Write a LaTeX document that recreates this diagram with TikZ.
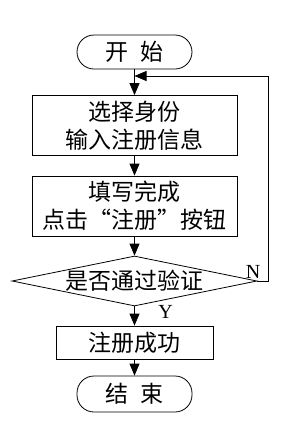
\documentclass[tikz,border=0pt]{standalone}
\usepackage{fontspec}
\setmainfont{Liberation Serif}
\newfontfamily\cjk{Noto Sans CJK SC}
\newfontfamily\cjkfw[RawFeature=+fwid]{Noto Sans CJK SC}
\usetikzlibrary{shapes.geometric,arrows.meta}

\tikzset{
  every node/.style={font=\cjk\fontsize{23pt}{28pt}\selectfont},
  stepbox/.style={draw, minimum width=205pt, minimum height=60pt, inner sep=0pt, align=center},
  termbox/.style={draw, rounded corners=17pt, minimum width=115pt, minimum height=34pt, inner sep=0pt},
  decision/.style={draw, diamond, minimum width=245pt, minimum height=50pt, inner sep=0pt},
  flow/.style={-{Triangle[length=12pt,width=10pt]}},
  yn/.style={font=\rmfamily\fontsize{20pt}{20pt}\selectfont, inner sep=0pt}
}

\begin{document}
\begin{tikzpicture}[x=1pt,y=-1pt,line width=0.8pt]
  \useasboundingbox (0,0) rectangle (304,432);

  % Kroki
  \node[termbox] (start) at (134.5,52) {开\hspace{0.5em}始};
  \node[stepbox] (sel) at (134.5,125.5) {选择身份\\输入注册信息};
  \node[stepbox] (fill) at (134.5,206) {填写完成\\点击{\cjkfw “}注册{\cjkfw ”}按钮};
  \node[decision] (chk) at (134.5,281) {\makebox[0pt]{是否通过验证}};
  \node[stepbox, minimum width=157pt, minimum height=33pt] (ok) at (134.5,342.5) {注册成功};
  \node[termbox, minimum height=36pt] (stop) at (134.5,394) {结\hspace{0.5em}束};

  % Strzalki
  \draw[flow] (start) -- (sel);
  \draw[flow] (sel) -- (fill);
  \draw[flow] (fill) -- (chk);
  \draw[flow] (chk) -- (ok);
  \draw[flow] (ok) -- (stop);

  % Petla
  \coordinate (join) at (134.5,76);
  \draw[flow] (chk.east) -- ++(11,0) |- (join);

  % Etykiety
  \node[yn] (nlab) at (253,271.5) {N};
  \node[yn] (ylab) at (165.5,312) {Y};

\end{tikzpicture}
\end{document}
